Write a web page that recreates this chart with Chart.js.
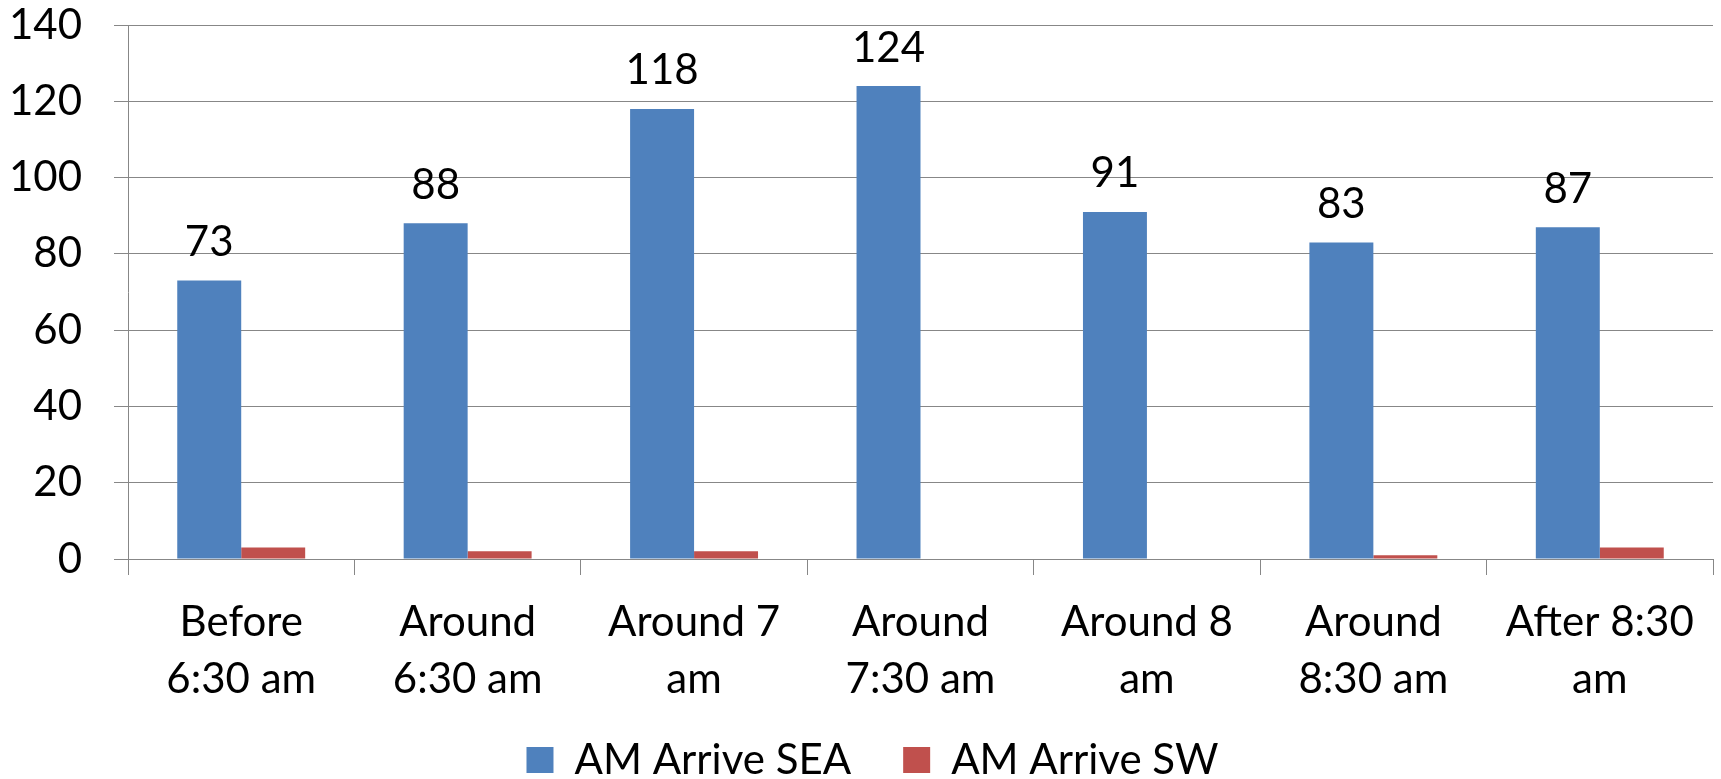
<!DOCTYPE html>
<html>
<head>
<meta charset="utf-8">
<script src="https://cdn.jsdelivr.net/npm/chart.js@4/dist/chart.umd.min.js"></script>
<style>
  html, body { margin: 0; padding: 0; background: #ffffff; }
  #wrap { width: 1721px; height: 779px; position: relative; }
</style>
</head>
<body>
<div id="wrap"><canvas id="c" width="1721" height="779"></canvas></div>
<script>
const categories = [
  ["Before", "6:30 am"],
  ["Around", "6:30 am"],
  ["Around 7", "am"],
  ["Around", "7:30 am"],
  ["Around 8", "am"],
  ["Around", "8:30 am"],
  ["After 8:30", "am"]
];
const seaValues = [73, 88, 118, 124, 91, 83, 87];
const swValues = [3, 2, 2, 0, 0, 1, 3];
const seriesNames = ["AM Arrive SEA", "AM Arrive SW"];
const yTicks = [0, 20, 40, 60, 80, 100, 120, 140];

const FONT = "Lato, 'Open Sans', sans-serif";
const FS = 42;
const GRID = "#878787";

const dataLabels = {
  id: "dataLabels",
  afterDatasetsDraw(chart) {
    const ctx = chart.ctx;
    const meta = chart.getDatasetMeta(0);
    ctx.save();
    ctx.font = FS + "px " + FONT;
    ctx.fillStyle = "#000";
    ctx.textAlign = "center";
    ctx.textBaseline = "middle";
    meta.data.forEach((bar, i) => {
      ctx.fillText(String(seaValues[i]), bar.x, bar.y - 38);
    });
    ctx.restore();
  }
};

// place the legend row like the original (slightly right of centre, just under the labels)
const legendPlacer = {
  id: "legendPlacer",
  afterLayout(chart) {
    const lg = chart.legend;
    if (!lg) return;
    lg.top = 687;
    lg.bottom = chart.height;
    lg.height = lg.bottom - lg.top;
    lg.left += 16;
    lg.right += 16;
  }
};

new Chart(document.getElementById("c"), {
  type: "bar",
  data: {
    labels: categories,
    datasets: [
      { label: seriesNames[0], data: seaValues, backgroundColor: "#4F81BD", borderWidth: 0 },
      { label: seriesNames[1], data: swValues, backgroundColor: "#C0504D", borderWidth: 0 }
    ]
  },
  options: {
    responsive: false,
    animation: false,
    devicePixelRatio: 1,
    layout: { padding: { top: 0, right: 8, left: 0, bottom: 0 } },
    datasets: { bar: { categoryPercentage: 0.565, barPercentage: 1.0 } },
    plugins: {
      legend: {
        position: "bottom",
        maxHeight: 70,
        labels: {
          font: { family: FONT, size: FS },
          color: "#000",
          boxWidth: 27,
          boxHeight: 26,
          padding: 52
        }
      },
      tooltip: { enabled: false }
    },
    scales: {
      x: {
        grid: { drawOnChartArea: false, drawTicks: true, tickLength: 16, color: GRID, offset: true },
        border: { display: true, color: GRID, width: 1 },
        ticks: {
          font: { family: FONT, size: FS, lineHeight: 1.38 },
          color: "#000",
          padding: 18,
          maxRotation: 0,
          autoSkip: false
        },
        afterFit(scale) { scale.height = 150; }
      },
      y: {
        min: 0,
        max: 140,
        afterBuildTicks(scale) { scale.ticks = yTicks.map(v => ({ value: v })); },
        grid: { color: GRID, tickLength: 14, drawTicks: true },
        border: { display: true, color: GRID, width: 1 },
        ticks: {
          font: { family: FONT, size: FS },
          color: "#000",
          padding: 32
        },
        afterFit(scale) {
          scale.width = 128;
          scale.paddingTop = 25;
          scale.paddingBottom = 0;
        }
      }
    }
  },
  plugins: [dataLabels, legendPlacer]
});
</script>
</body>
</html>
